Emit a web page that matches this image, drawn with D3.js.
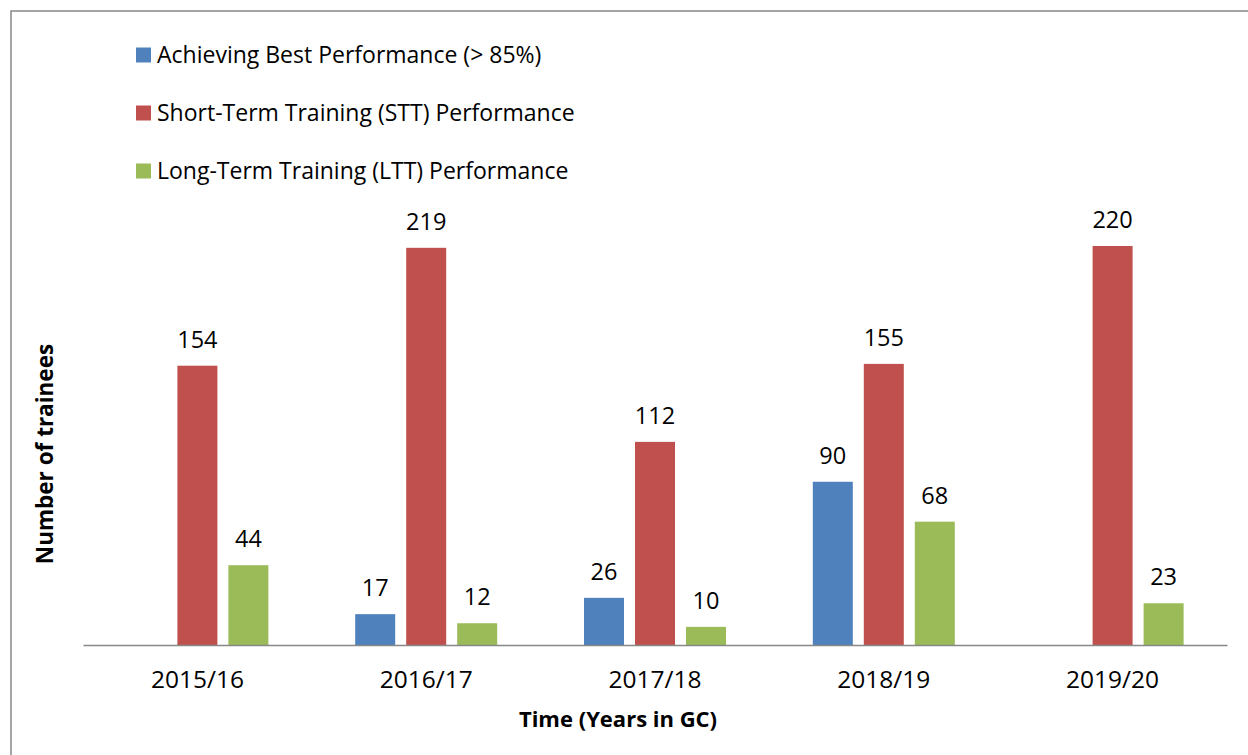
<!DOCTYPE html>
<html><head><meta charset="utf-8">
<script src="https://cdn.jsdelivr.net/npm/d3@7"></script>
<style>body{margin:0;background:#fff}svg{display:block}text{font-family:"Open Sans","Noto Sans",sans-serif;fill:#000}</style>
</head><body>
<svg id="c" width="1248" height="755"></svg>
<script>
const categories = ["2015/16","2016/17","2017/18","2018/19","2019/20"];
const seriesNames = ["Achieving Best Performance (> 85%)","Short-Term Training (STT) Performance","Long-Term Training (LTT) Performance"];
const bestPerf = [null,17,26,90,null];
const sttPerf = [154,219,112,155,220];
const lttPerf = [44,12,10,68,23];
const colors = ["#4F81BD","#C0504D","#9BBB59"];

const svg = d3.select("#c");
svg.append("rect").attr("x",11).attr("y",11).attr("width",1300).attr("height",800)
  .attr("fill","none").attr("stroke","#888").attr("stroke-width",1.5);

const left=83,right=1227,base=645;
const x = d3.scaleBand().domain(categories).range([left,right]);
const y = d3.scaleLinear().domain([0,220]).range([base,246]);
const inner = d3.scaleBand().domain([0,1,2]).range([-71,71]).paddingInner(11/51).paddingOuter(0);
const series=[bestPerf,sttPerf,lttPerf];

series.forEach((vals,si)=>{
  const g=svg.append("g");
  const data=categories.map((c,i)=>({c,v:vals[i]})).filter(d=>d.v!=null);
  g.selectAll("rect").data(data).join("rect")
    .attr("x",d=>x(d.c)+x.bandwidth()/2+inner(si))
    .attr("width",inner.bandwidth())
    .attr("y",d=>y(d.v)).attr("height",d=>base-y(d.v))
    .attr("fill",colors[si]);
  g.selectAll("text").data(data).join("text")
    .attr("x",d=>x(d.c)+x.bandwidth()/2+inner(si)+inner.bandwidth()/2)
    .attr("y",d=>y(d.v)-18)
    .attr("text-anchor","middle").attr("font-size",23.5).text(d=>d.v);
});

const ax=svg.append("g").attr("transform",`translate(0,${base})`)
  .call(d3.axisBottom(x).tickSize(0).tickPadding(26));
ax.select(".domain").attr("stroke","#888").attr("stroke-width",1.5);
ax.selectAll("text").attr("font-size",24.5).attr("font-family",'"Open Sans",sans-serif').attr("fill","#000");

svg.append("text").attr("x",618).attr("y",727).attr("text-anchor","middle")
  .attr("font-size",22).attr("font-weight","bold").text("Time (Years in GC)");
svg.append("text").attr("transform","translate(53,454) rotate(-90)").attr("text-anchor","middle")
  .attr("font-size",22.5).attr("font-weight","bold").text("Number of trainees");

const lg=svg.append("g");
seriesNames.forEach((n,i)=>{
  const cy=55+i*58;
  lg.append("rect").attr("x",136).attr("y",cy-7.5).attr("width",15).attr("height",15).attr("fill",colors[i]);
  lg.append("text").attr("x",157).attr("y",cy+8).attr("font-size",23).text(n);
});
</script>
</body></html>
